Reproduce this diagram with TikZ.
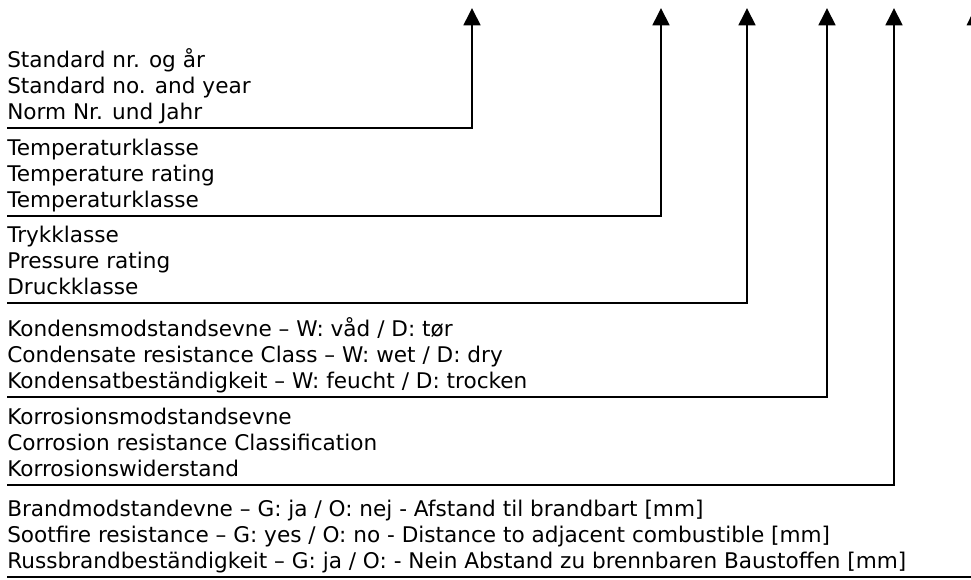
\documentclass[tikz,border=0pt]{standalone}
\usepackage{fontspec}
\setmainfont{DejaVu Sans}
\usetikzlibrary{arrows.meta}
\usetikzlibrary{positioning}

\tikzset{
  txt/.style={anchor=base west, inner sep=0pt, font=\fontsize{16.2}{19.5}\selectfont},
  lead/.style={line width=2pt, -{Triangle[width=12.5pt,length=13pt]}},
  thinlead/.style={line width=0.9pt, -{Triangle[width=12.5pt,length=13pt]}}
}

\begin{document}
\begin{tikzpicture}[x=0.75pt,y=-0.75pt]
  \useasboundingbox (0,0) rectangle (971,579);
  \clip (0,0) rectangle (971,579);
  % arrow tips along the top
  \coordinate (a1) at (472,8);
  \coordinate (a2) at (661,8);
  \coordinate (a3) at (747,8);
  \coordinate (a4) at (827,8);
  \coordinate (a5) at (894,8);
  \coordinate (a6) at (975,8);
  % labels
  \node[txt] (std1) at (7,67) {Standard nr. og år};
  \node[txt] (std2) at (7,93) {Standard no. and year};
  \node[txt] (std3) at (7,119) {Norm Nr. und Jahr};
  \node[txt] (temp1) at (7,155) {Temperaturklasse};
  \node[txt] (temp2) at (7,181) {Temperature rating};
  \node[txt] (temp3) at (7,207) {Temperaturklasse};
  \node[txt] (press1) at (7,242) {Trykklasse};
  \node[txt] (press2) at (7,268) {Pressure rating};
  \node[txt] (press3) at (7,294) {Druckklasse};
  \node[txt] (cond1) at (7,336) {Kondensmodstandsevne – W: våd / D: tør};
  \node[txt] (cond2) at (7,362) {Condensate resistance Class – W: wet / D: dry};
  \node[txt] (cond3) at (7,388) {Kondensatbeständigkeit – W: feucht / D: trocken};
  \node[txt] (corr1) at (7,424) {Korrosionsmodstandsevne};
  \node[txt] (corr2) at (7,450) {Corrosion resistance Classification};
  \node[txt] (corr3) at (7,476) {Korrosionswiderstand};
  \node[txt] (fire1) at (7,516) {Brandmodstandevne – G: ja / O: nej - Afstand til brandbart [mm]};
  \node[txt] (fire2) at (7,542) {Sootfire resistance – G: yes / O: no - Distance to adjacent combustible [mm]};
  \node[txt] (fire3) at (7,568) {Russbrandbeständigkeit – G: ja / O: - Nein Abstand zu brennbaren Baustoffen [mm]};
  % leaders
  \draw[lead] ([yshift=-6.75pt]std3.base west) -| (a1);
  \draw[lead] ([yshift=-6.75pt]temp3.base west) -| (a2);
  \draw[lead] ([yshift=-6.75pt]press3.base west) -| (a3);
  \draw[lead] ([yshift=-6.75pt]cond3.base west) -| (a4);
  \draw[lead] ([yshift=-6.75pt]corr3.base west) -| (a5);
  \draw[thinlead] ([yshift=-6.75pt]fire3.base west) -| (a6);
\end{tikzpicture}
\end{document}
